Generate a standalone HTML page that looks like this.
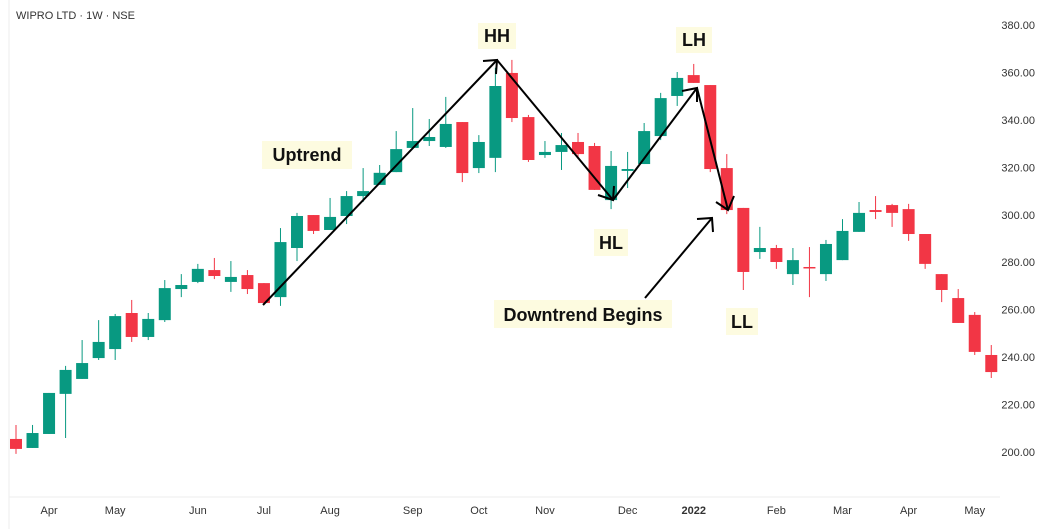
<!DOCTYPE html>
<html><head><meta charset="utf-8"><style>
body{margin:0;background:#fff;}
svg{display:block;font-family:"Liberation Sans",sans-serif;}
</style></head><body>
<svg id="chart" width="1058" height="529" viewBox="0 0 1058 529">
<rect width="1058" height="529" fill="#fff"/>
<line x1="9" y1="0" x2="9" y2="529" stroke="#eee"/>
<line x1="9" y1="497" x2="1000" y2="497" stroke="#eee"/>
<text x="16" y="19" font-size="11" fill="#333">WIPRO LTD · 1W · NSE</text>
<g id="yaxis"></g><g id="xaxis"></g><g id="candles"></g>
<g id="ann" stroke="#000" stroke-width="2" fill="none">
<line x1="263" y1="305" x2="497" y2="60"/>
<polyline points="483,61 497,60 496,74"/>
<line x1="497" y1="60" x2="613" y2="200"/>
<polyline points="598,195 613,200 614,186"/>
<line x1="613" y1="200" x2="697" y2="88"/>
<polyline points="682,91 697,88 697,102"/>
<line x1="697" y1="88" x2="728" y2="210"/>
<polyline points="716,202 728,210 734,196"/>
<line x1="645" y1="298" x2="712" y2="218"/>
<polyline points="697,219 712,218 713,232"/>
</g>
<g font-size="18" font-weight="bold" fill="#111">
<rect x="478" y="23" width="38" height="26" fill="#fdfbe0"/><text x="497" y="42" text-anchor="middle">HH</text>
<rect x="262" y="141" width="90" height="28" fill="#fdfbe0"/><text x="307" y="161" text-anchor="middle">Uptrend</text>
<rect x="676" y="27" width="36" height="26" fill="#fdfbe0"/><text x="694" y="46" text-anchor="middle">LH</text>
<rect x="594" y="229" width="34" height="27" fill="#fdfbe0"/><text x="611" y="249" text-anchor="middle">HL</text>
<rect x="494" y="300" width="178" height="28" fill="#fdfbe0"/><text x="583" y="321" text-anchor="middle">Downtrend Begins</text>
<rect x="726" y="308" width="32" height="27" fill="#fdfbe0"/><text x="742" y="328" text-anchor="middle">LL</text>
</g>
</svg>
<script>
const opens=[205.5,201.7,207.6,224.5,230.8,239.6,243.4,258.6,248.5,255.6,268.7,271.7,276.7,271.7,274.6,271.2,265.3,286.0,299.9,293.6,299.5,307.9,312.6,318.0,328.2,331.1,328.6,339.1,319.7,324.0,359.8,341.2,325.2,326.5,330.7,329.0,306.2,318.5,321.4,333.2,350.1,358.9,354.7,319.7,302.9,284.3,286.0,275.0,278.0,275.0,280.9,292.8,302.0,304.1,302.4,291.9,275.0,264.9,257.8,240.9];
const closes=[201.3,208.0,224.9,234.6,237.5,246.4,257.3,248.5,256.1,269.1,270.4,277.2,274.2,273.8,268.7,262.8,288.5,299.5,293.2,299.1,307.9,310.0,317.7,327.7,331.1,332.8,338.3,317.6,330.7,354.3,340.8,323.1,326.5,329.4,325.6,310.5,320.6,319.3,335.3,349.2,357.7,355.6,319.3,302.0,275.9,286.0,280.1,280.9,277.6,287.7,293.2,300.8,301.2,300.8,291.9,279.3,268.3,254.4,242.2,233.7];
const highs=[211.4,211.4,224.9,236.3,247.2,255.6,258.2,264.1,258.6,272.5,275.0,279.3,281.8,280.5,276.7,271.2,294.4,300.8,299.9,307.1,310.0,319.7,321.0,335.3,345.0,340.4,349.7,339.1,333.6,362.0,365.3,342.1,331.1,334.5,334.5,330.3,326.9,326.5,338.7,351.4,360.2,363.6,354.7,325.6,302.9,294.9,287.3,286.0,286.4,289.4,298.2,305.4,307.9,304.6,304.6,291.9,275.0,268.7,259.0,245.1];
const lows=[199.2,201.7,207.6,205.9,230.8,238.8,238.8,246.4,247.2,254.8,265.3,271.2,272.9,267.5,266.6,262.0,261.6,280.5,291.9,293.6,296.1,305.4,312.6,318.0,328.2,329.0,328.2,313.8,317.6,318.0,339.1,322.3,324.0,318.9,324.0,310.5,302.4,311.3,321.4,331.5,345.9,355.6,318.0,300.3,268.3,281.4,277.2,270.4,265.3,272.1,280.9,292.8,298.2,294.9,289.0,277.2,263.2,254.4,240.9,231.2];
const yTicks=[200,220,240,260,280,300,320,340,360,380];
const xLabels=["Apr","May","Jun","Jul","Aug","Sep","Oct","Nov","Dec","2022","Feb","Mar","Apr","May"];
const xLabelIdx=[2,6,11,15,19,24,28,32,37,41,46,50,54,58];
const NS="http://www.w3.org/2000/svg";
const yScale=v=>452-(v-200)*2.372;
const xScale=i=>16+i*16.53;
function mk(tag,attrs,parent){const e=document.createElementNS(NS,tag);for(const k in attrs)e.setAttribute(k,attrs[k]);parent.appendChild(e);return e;}
const ya=document.getElementById('yaxis');
yTicks.forEach(t=>{const e=mk('text',{x:1035,y:yScale(t)+4,'font-size':11,fill:'#333','text-anchor':'end'},ya);e.textContent=t.toFixed(2);

});
const xa=document.getElementById('xaxis');
xLabels.forEach((l,k)=>{const e=mk('text',{x:xScale(xLabelIdx[k]),y:514,'font-size':11,fill:'#333','text-anchor':'middle','font-weight':l==='2022'?'bold':'normal'},xa);e.textContent=l;

});
const cg=document.getElementById('candles');
opens.forEach((o,i)=>{const c=closes[i];const col=c>=o?'#089981':'#f23645';const x=xScale(i);
const g=mk('g',{},cg);


mk('line',{x1:x,x2:x,y1:yScale(highs[i]),y2:yScale(lows[i]),stroke:col,'stroke-width':1},g);
const top=yScale(Math.max(o,c)),bot=yScale(Math.min(o,c));
mk('rect',{x:x-6,y:top,width:12,height:Math.max(1.5,bot-top),fill:col},g);});
</script>
</body></html>
